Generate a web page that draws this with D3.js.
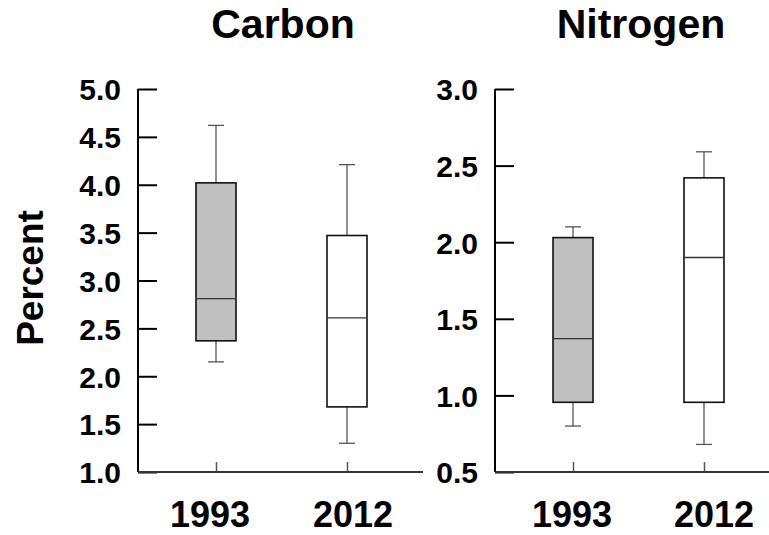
<!DOCTYPE html>
<html>
<head>
<meta charset="utf-8">
<script src="https://cdn.jsdelivr.net/npm/d3@7"></script>
<style>
  html, body { margin: 0; padding: 0; background: #fff; }
  svg text { font-family: "Liberation Sans", Arial, Helvetica, sans-serif; font-weight: bold; fill: #000; }
</style>
</head>
<body>
<svg id="chart" width="769" height="535"></svg>
<script>
// Sampling years (x categories)
const years = ["1993", "2012"];
const boxFills = ["#c0c0c0", "#ffffff"];

// Carbon (%) five-number summaries per year
const carbonMin    = [2.15, 1.30];
const carbonQ1     = [2.37, 1.68];
const carbonMedian = [2.81, 2.61];
const carbonQ3     = [4.02, 3.47];
const carbonMax    = [4.62, 4.21];
const carbonTicks  = [1.0, 1.5, 2.0, 2.5, 3.0, 3.5, 4.0, 4.5, 5.0];

// Nitrogen (%) five-number summaries per year
const nitrogenMin    = [0.80, 0.68];
const nitrogenQ1     = [0.955, 0.955];
const nitrogenMedian = [1.37, 1.90];
const nitrogenQ3     = [2.03, 2.42];
const nitrogenMax    = [2.10, 2.59];
const nitrogenTicks  = [0.5, 1.0, 1.5, 2.0, 2.5, 3.0];

const svg = d3.select("#chart");

const panels = [
  { title: "Carbon", titleX: 283, axisX: 138, axisEnd: 423,
    xRange: [216, 347], labelRange: [210, 353],
    domain: [1.0, 5.0], ticks: carbonTicks,
    min: carbonMin, q1: carbonQ1, med: carbonMedian, q3: carbonQ3, max: carbonMax },
  { title: "Nitrogen", titleX: 641, axisX: 495, axisEnd: 769,
    xRange: [573, 704], labelRange: [572, 714],
    domain: [0.5, 3.0], ticks: nitrogenTicks,
    min: nitrogenMin, q1: nitrogenQ1, med: nitrogenMedian, q3: nitrogenQ3, max: nitrogenMax }
];

const plotTop = 89, plotBottom = 472;
const boxW = 40, capW = 16;

panels.forEach(p => {
  const y = d3.scaleLinear().domain(p.domain).range([plotBottom, plotTop]);
  const x = d3.scalePoint().domain(years).range(p.xRange);
  const xLab = d3.scalePoint().domain(years).range(p.labelRange);
  const g = svg.append("g");

  // Title
  g.append("text")
    .attr("x", p.titleX).attr("y", 38)
    .attr("text-anchor", "middle")
    .style("font-size", "41px")
    .text(p.title);

  // Y axis: ticks pointing inward, labels on the left
  const yAxis = d3.axisRight(y)
    .tickValues(p.ticks)
    .tickFormat(d3.format(".1f"))
    .tickSize(19)
    .tickPadding(0);
  const ya = g.append("g").attr("transform", `translate(${p.axisX},0)`).call(yAxis);
  ya.select(".domain").remove();
  ya.selectAll(".tick line").attr("stroke", "#000").attr("stroke-width", 2);
  ya.selectAll(".tick text")
    .attr("x", -17)
    .attr("text-anchor", "end")
    .attr("dy", "0.36em")
    .style("font-size", "30px");
  g.append("line")
    .attr("x1", p.axisX).attr("x2", p.axisX)
    .attr("y1", y(p.domain[1])).attr("y2", plotBottom)
    .attr("stroke", "#000").attr("stroke-width", 2);

  // X axis: baseline with short upward ticks
  const xAxis = d3.axisTop(x).tickSize(10).tickFormat("");
  const xa = g.append("g").attr("transform", `translate(0,${plotBottom})`).call(xAxis);
  xa.select(".domain").remove();
  xa.selectAll(".tick line").attr("stroke", "#555").attr("stroke-width", 1.5);
  g.append("line")
    .attr("x1", p.axisX).attr("x2", p.axisEnd)
    .attr("y1", plotBottom).attr("y2", plotBottom)
    .attr("stroke", "#333").attr("stroke-width", 2);

  // Category labels
  g.selectAll(".xlab").data(years).join("text")
    .attr("class", "xlab")
    .attr("x", d => xLab(d)).attr("y", 527)
    .attr("text-anchor", "middle")
    .style("font-size", "36px")
    .text(d => d);

  // Box plots
  years.forEach((yr, i) => {
    const cx = x(yr);
    // whiskers
    g.append("line").attr("x1", cx).attr("x2", cx)
      .attr("y1", y(p.max[i])).attr("y2", y(p.q3[i]))
      .attr("stroke", "#555").attr("stroke-width", 1.3);
    g.append("line").attr("x1", cx).attr("x2", cx)
      .attr("y1", y(p.q1[i])).attr("y2", y(p.min[i]))
      .attr("stroke", "#555").attr("stroke-width", 1.3);
    // caps
    [p.max[i], p.min[i]].forEach(v => {
      g.append("line").attr("x1", cx - capW / 2).attr("x2", cx + capW / 2)
        .attr("y1", y(v)).attr("y2", y(v))
        .attr("stroke", "#555").attr("stroke-width", 1.3);
    });
    // box
    g.append("rect")
      .attr("x", cx - boxW / 2).attr("width", boxW)
      .attr("y", y(p.q3[i])).attr("height", y(p.q1[i]) - y(p.q3[i]))
      .attr("fill", boxFills[i]).attr("stroke", "#111").attr("stroke-width", 1.6);
    // median
    g.append("line").attr("x1", cx - boxW / 2).attr("x2", cx + boxW / 2)
      .attr("y1", y(p.med[i])).attr("y2", y(p.med[i]))
      .attr("stroke", "#333").attr("stroke-width", 1.3);
  });
});

// Shared y-axis title
svg.append("text")
  .attr("transform", "translate(43,278) rotate(-90)")
  .attr("text-anchor", "middle")
  .style("font-size", "37px")
  .text("Percent");
</script>
</body>
</html>
